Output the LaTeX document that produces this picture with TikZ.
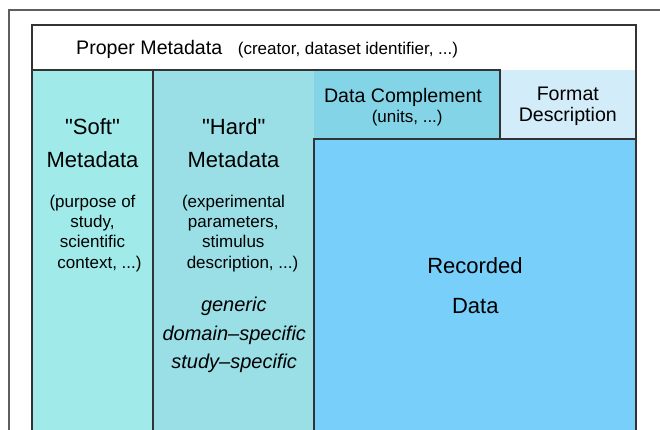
\documentclass[tikz,border=0pt]{standalone}
\usepackage{fontspec}
\setmainfont{Liberation Sans}[Ligatures=TeXOff]
\definecolor{softc}{HTML}{A0EAEA}
\definecolor{hardc}{HTML}{9ADEE6}
\definecolor{compc}{HTML}{84D4E8}
\definecolor{fmtc}{HTML}{D2ECFA}
\definecolor{recc}{HTML}{77CFFA}
\definecolor{edgec}{HTML}{333333}
\definecolor{framec}{HTML}{5E5E5E}
\tikzset{
  tbig/.style={font=\fontsize{22}{26}\selectfont, anchor=base, inner sep=0pt},
  tmid/.style={font=\fontsize{19.6}{23}\selectfont, anchor=base, inner sep=0pt},
  tsmall/.style={font=\fontsize{17}{20}\selectfont, anchor=base, inner sep=0pt},
  tital/.style={font=\fontsize{20}{24}\selectfont\itshape, anchor=base, inner sep=0pt},
  edgeline/.style={draw=edgec, line width=1.2pt},
}
\begin{document}
\begin{tikzpicture}[x=1pt,y=-1pt]
\useasboundingbox (0,0) rectangle (660,429);
\clip (0,0) rectangle (660,429);
\fill[white] (0,0) rectangle (660,429);
% outer frame
\draw[framec, line width=1.1pt] (9,440) -- (9,10) -- (670,10);
% fills
\fill[white] (32,25) rectangle (636,70);
\fill[softc] (32,70) rectangle (153,440);
\fill[hardc] (153,70) rectangle (314,440);
\fill[compc] (314,70) rectangle (500,139);
\fill[fmtc] (500,70) rectangle (636,139);
\fill[recc] (314,139) rectangle (636,440);
% lines
\draw[edgeline] (32,440) -- (32,25) -- (636,25) -- (636,440);
\draw[edgeline] (32,70) -- (500,70) -- (500,139);
\draw[edgeline] (153,70) -- (153,440);
\draw[edgeline] (314,440) -- (314,139) -- (636,139);
% header
\node[tmid, anchor=base west] (hdrA) at (76,54.3) {Proper Metadata};
\node[tsmall, anchor=base west] (hdrB) at (237.7,54.3) {(creator, dataset identifier, ...)};
% soft
\node[tbig] (softA) at (92.5,134.5) {"Soft"};
\node[tbig] (softB) at (92.5,167.8) {Metadata};
\node[tsmall] (softC) at (92.5,207.3) {(purpose of};
\node[tsmall] (softD) at (92.5,227.3) {study,};
\node[tsmall] (softE) at (92.5,247.5) {scientific};
\node[tsmall] (softF) at (99.5,268.3) {context, ...)};
% hard
\node[tbig] (hardA) at (233.8,134.5) {"Hard"};
\node[tbig] (hardB) at (233.5,167.8) {Metadata};
\node[tsmall] (hardC) at (233.5,207.3) {(experimental};
\node[tsmall] (hardD) at (233.3,227.3) {parameters,};
\node[tsmall] (hardE) at (233.3,247.5) {stimulus};
\node[tsmall] (hardF) at (242.5,268.3) {description, ...)};
\node[tital] (hardG) at (233.8,311.8) {generic};
\node[tital] (hardH) at (234.3,340.3) {domain–specific};
\node[tital] (hardI) at (234.2,368.2) {study–specific};
% data complement
\node[tmid] (compA) at (403,102.7) {Data Complement};
\node[tsmall] (compB) at (407.2,122.7) {(units, ...)};
% format
\node[tmid] (fmtA) at (567.8,100) {Format};
\node[tmid] (fmtB) at (567.8,121) {Description};
% recorded
\node[tbig] (recA) at (475,273) {Recorded};
\node[tbig] (recB) at (475.3,313) {Data};
\end{tikzpicture}
\end{document}
